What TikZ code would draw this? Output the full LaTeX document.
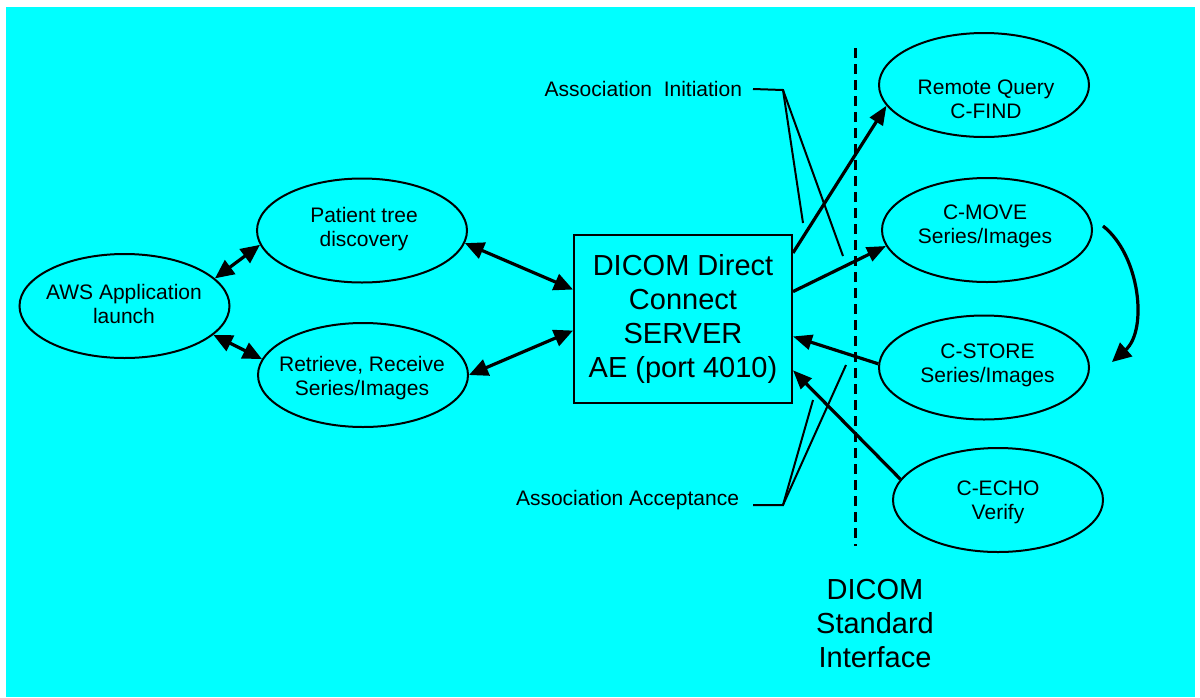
\documentclass[tikz,border=0pt]{standalone}
\usepackage{fontspec}
\setmainfont{Liberation Sans}
\usetikzlibrary{shapes.geometric, arrows.meta}
\definecolor{bgcyan}{RGB}{0,255,255}
\begin{document}
\begin{tikzpicture}[x=1pt,y=-1pt,
  oval/.style={ellipse, draw, line width=2pt, inner sep=0pt, minimum width=210pt, minimum height=104pt},
  txt/.style={align=center, inner sep=0pt, font=\fontsize{21}{24}\selectfont},
  big/.style={align=center, font=\fontsize{29}{34}\selectfont},
  onearrow/.style={line width=3.2pt, -{Triangle[length=19pt,width=15pt]}},
  dblarrow/.style={line width=3.2pt, {Triangle[length=19pt,width=17pt]}-{Triangle[length=19pt,width=17pt]}},
  thinline/.style={line width=2pt},
]
\useasboundingbox (0,0) rectangle (1200,697);
\fill[white] (0,0) rectangle (1200,697);
\fill[bgcyan] (6,7) rectangle (1195,697);

% ellipses
\node[oval] (aws) at (124.5,306) {};
\node[oval] (pat) at (362,230.5) {};
\node[oval] (ret) at (363,375) {};
\node[oval] (rq)  at (984,85) {};
\node[oval] (cmove) at (987,230) {};
\node[oval] (cstore) at (984,367.5) {};
\node[oval] (cecho) at (998,500) {};

\node[txt] (awst) at (124,303.5) {AWS Application\\launch};
\node[txt] (patt) at (364,229.5) {Patient tree\\discovery};
\node[txt] (rett) at (362,378.5) {Retrieve, Receive\\Series/Images};
\node[txt] (rqt) at (986,99.5) {Remote Query\\C-FIND};
\node[txt] (cmovet) at (985,226.5) {C-MOVE\\Series/Images};
\node[txt] (cstoret) at (987.5,365.5) {C-STORE\\Series/Images};
\node[txt] (cechot) at (998,502.5) {C-ECHO\\Verify};

% server box
\node[draw, line width=2pt, minimum width=218pt, minimum height=168pt, big] (dic) at (683,319)
  {DICOM Direct\\Connect\\SERVER\\AE (port 4010)};

% left arrows
\draw[dblarrow] (aws.17.5) -- (pat.188.3);
\draw[dblarrow] (aws.-18) -- (ret.171.3);
\draw[dblarrow] (pat.-7) -- (dic.165.7);
\draw[dblarrow] (ret.0.5) -- (dic.186.2);

% right arrows
\draw[onearrow] (dic.31.3) -- (rq.192.4);
\draw[onearrow] (dic.14.8) -- (cmove.189.2);
\draw[onearrow] (cstore.178.6) -- (dic.-9.8);
\draw[onearrow] (cecho.168) -- (dic.-25.7);

% curved arrow
\coordinate (cvs) at (1103,226);
\coordinate (cve) at (1112,362);
\draw[line width=3.2pt, -{Triangle[length=19pt,width=18pt]}] (cvs) .. controls (1140,255) and (1148,330) .. (cve);

% dashed interface line
\coordinate (dtop) at (855,48);
\coordinate (dbot) at (855,546);
\draw[line width=3pt, dash pattern=on 10pt off 6pt] (dtop) -- (dbot);

% association labels
\node[txt, anchor=east, outer xsep=11pt] (ainit) at (753,89) {Association~~Initiation};
\coordinate (ai0) at (783,90);
\coordinate (ai1) at (803,223);
\coordinate (ai2) at (843,256);
\draw[thinline] (ainit.east) -- (ai0) -- (ai1);
\draw[thinline] (ai0) -- (ai2);

\node[txt, anchor=base east, outer xsep=14pt] (aacc) at (753,505) {Association Acceptance};
\coordinate (aa0) at (783,505);
\coordinate (aa1) at (813,400);
\coordinate (aa2) at (846,365);
\draw[thinline] (aacc.base east) -- (aa0) -- (aa1);
\draw[thinline] (aa0) -- (aa2);

\node[big] (dsi) at (875,624) {DICOM\\Standard\\Interface};
\end{tikzpicture}
\end{document}
